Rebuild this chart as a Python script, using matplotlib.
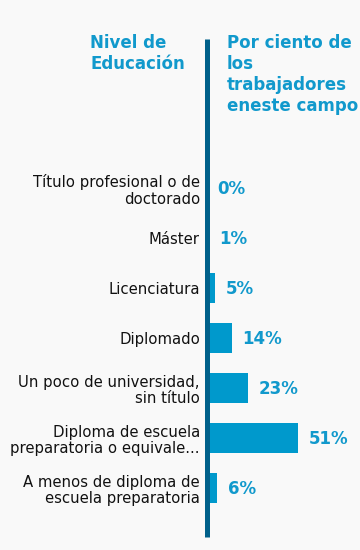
import matplotlib
matplotlib.use('Agg')
import matplotlib.pyplot as plt
from matplotlib.lines import Line2D

categories = [
    "Título profesional o de\ndoctorado",
    "Máster",
    "Licenciatura",
    "Diplomado",
    "Un poco de universidad,\nsin título",
    "Diploma de escuela\npreparatoria o equivale...",
    "A menos de diploma de\nescuela preparatoria",
]
values = [0, 1, 5, 14, 23, 51, 6]
header_left = ["Nivel de", "Educación"]
header_right = ["Por ciento de", "los", "trabajadores", "eneste campo"]

BG = '#f9f9f9'
BAR = '#0099cc'
TXT_BLUE = '#1199cc'
LINE = '#00608a'

W, H = 360, 550
fig = plt.figure(figsize=(W / 100, H / 100), dpi=100, facecolor=BG)


def fx(px):
    return px / W


def fy(py):
    return 1 - py / H


ax_left, ax_right, ax_top, ax_bottom = 206.5, 350, 163, 513
px_per_unit = 1.79
ax = fig.add_axes([fx(ax_left), fy(ax_bottom), (ax_right - ax_left) / W, (ax_bottom - ax_top) / H])
ax.set_facecolor('none')

ypos = list(range(len(categories)))
ax.barh(ypos, values, height=0.6, color=BAR, zorder=2)
ax.set_ylim(len(categories) - 0.5, -0.5)
ax.set_xlim(0, (ax_right - ax_left) / px_per_unit)

for v, yy in zip(values, ypos):
    ax.annotate(f"{v}%", xy=(v, yy), xytext=(10.5, 1.5), textcoords='offset pixels',
                ha='left', va='center_baseline', fontsize=12, fontweight='bold',
                color=TXT_BLUE, annotation_clip=False)

ax.set_yticks(ypos)
ax.set_yticklabels(categories, fontsize=10.7, color='#111111', linespacing=1.15)
ax.tick_params(axis='y', length=0, pad=4.7)
ax.set_xticks([])
for s in ax.spines.values():
    s.set_visible(False)

fig.add_artist(Line2D([fx(206.5), fx(206.5)], [fy(39), fy(537)], lw=5 * 0.72,
                      color=LINE, solid_capstyle='butt'))

for i, t in enumerate(header_left):
    fig.text(fx(90), fy(48.3 + 21 * i), t, ha='left', va='baseline', fontsize=12,
             fontweight='bold', color=TXT_BLUE)
for i, t in enumerate(header_right):
    fig.text(fx(227), fy(48.3 + 21 * i), t, ha='left', va='baseline', fontsize=12,
             fontweight='bold', color=TXT_BLUE)

fig.savefig('out.png', dpi=100, facecolor=BG)
